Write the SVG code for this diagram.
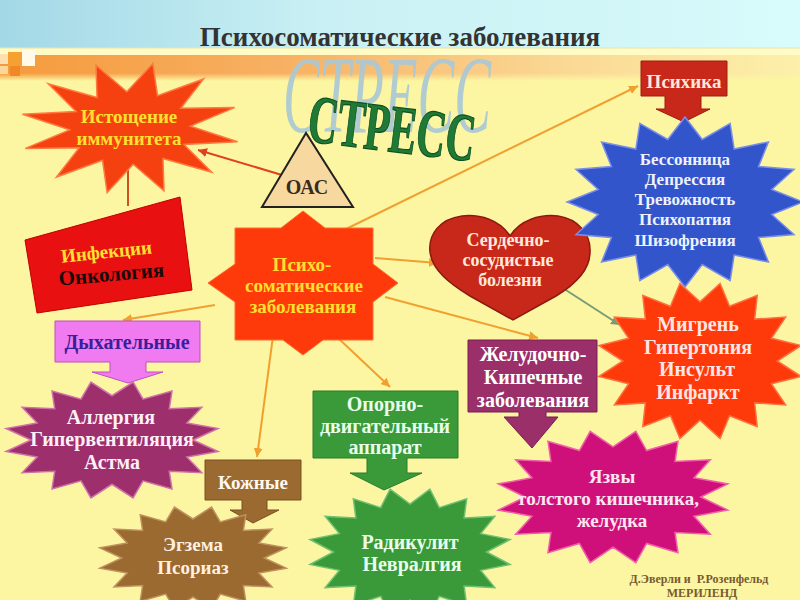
<svg xmlns="http://www.w3.org/2000/svg" width="800" height="600" viewBox="0 0 800 600">
<style>
.t{font-family:"Liberation Serif","Times New Roman",serif;font-weight:bold;text-anchor:middle;}
.f19{font-size:19px;}
.f20{font-size:20px;}
.f17{font-size:17px;}
.ln{fill:none;stroke:#f0a030;stroke-width:2;}
.st{stroke-width:1.5;vector-effect:non-scaling-stroke;}
</style>
<defs>
<linearGradient id="gTitle" x1="0" y1="0" x2="1" y2="0">
<stop offset="0" stop-color="#a3d8e6"/><stop offset="0.4" stop-color="#c9f0f4"/><stop offset="1" stop-color="#d8fbfb"/>
</linearGradient>
<linearGradient id="gBand" x1="0" y1="0" x2="1" y2="0">
<stop offset="0" stop-color="#f59a3c"/><stop offset="0.35" stop-color="#f7b062"/><stop offset="0.7" stop-color="#fad894"/><stop offset="1" stop-color="#fcf0aa"/>
</linearGradient>
<linearGradient id="gBandV" x1="0" y1="0" x2="0" y2="1">
<stop offset="0" stop-color="#fcf6a2" stop-opacity="0"/><stop offset="0.7" stop-color="#fcf6a2" stop-opacity="0"/><stop offset="1" stop-color="#fcf6a2" stop-opacity="1"/>
</linearGradient>
<polygon id="star16" class="st" points="1,0 .7356,.1463 .9239,.3827 .6236,.4167 .7071,.7071 .4167,.6236 .3827,.9239 .1463,.7356 0,1 -.1463,.7356 -.3827,.9239 -.4167,.6236 -.7071,.7071 -.6236,.4167 -.9239,.3827 -.7356,.1463 -1,0 -.7356,-.1463 -.9239,-.3827 -.6236,-.4167 -.7071,-.7071 -.4167,-.6236 -.3827,-.9239 -.1463,-.7356 0,-1 .1463,-.7356 .3827,-.9239 .4167,-.6236 .7071,-.7071 .6236,-.4167 .9239,-.3827 .7356,-.1463"/>
<polygon id="star12" class="st" points="1,0 .5313,.1423 .866,.5 .3889,.3889 .5,.866 .1423,.5313 0,1 -.1423,.5313 -.5,.866 -.3889,.3889 -.866,.5 -.5313,.1423 -1,0 -.5313,-.1423 -.866,-.5 -.3889,-.3889 -.5,-.866 -.1423,-.5313 0,-1 .1423,-.5313 .5,-.866 .3889,-.3889 .866,-.5 .5313,-.1423"/>
<marker id="aO" viewBox="0 0 10 10" refX="10" refY="5" markerWidth="9" markerHeight="9" markerUnits="userSpaceOnUse" orient="auto"><path d="M0,0 L10,5 L0,10 Z" fill="#f0a030"/></marker>
<marker id="aR" viewBox="0 0 10 10" refX="10" refY="5" markerWidth="9" markerHeight="9" markerUnits="userSpaceOnUse" orient="auto"><path d="M0,0 L10,5 L0,10 Z" fill="#e04020"/></marker>
<marker id="aG" viewBox="0 0 10 10" refX="10" refY="5" markerWidth="9" markerHeight="9" markerUnits="userSpaceOnUse" orient="auto"><path d="M0,0 L10,5 L0,10 Z" fill="#7a9a7a"/></marker>
</defs>

<!-- background -->
<rect x="0" y="0" width="800" height="600" fill="#fcf6a2"/>
<rect x="0" y="48" width="800" height="8" fill="#fefbc4"/>
<rect x="0" y="55" width="800" height="26" fill="url(#gBand)"/>
<rect x="0" y="55" width="800" height="26" fill="url(#gBandV)"/>

<!-- stress title (ghost) -->
<text x="0" y="0" font-family="Liberation Serif, serif" font-style="italic" font-size="110" fill="#a8c8d6" fill-opacity="0.9" transform="translate(283,132) scale(0.5,1)">СТРЕСС</text>

<rect x="0" y="0" width="800" height="48" fill="url(#gTitle)"/>
<line x1="0" y1="48" x2="800" y2="48" stroke="#e8e4b0" stroke-width="1"/>
<rect x="0" y="54" width="8" height="10" fill="#fde0b0"/>
<rect x="8" y="52" width="14" height="14" fill="#f5a030"/>
<rect x="22" y="50" width="13" height="16" fill="#fffbe8"/>
<rect x="10" y="66" width="10" height="10" fill="#f08828"/>
<rect x="0" y="66" width="8" height="8" fill="#fbd79a"/>

<text class="t" x="400" y="46" font-size="27" fill="#333333">Психосоматические заболевания</text>

<text x="0" y="0" font-family="Liberation Serif, serif" font-weight="bold" font-size="68" fill="#1f7a35" stroke="#0f5020" stroke-width="1.2" transform="translate(306,141) rotate(7) scale(0.6,1)">СТРЕСС</text>

<!-- connectors -->
<g id="connectors">
<line class="ln" x1="342" y1="231" x2="638" y2="86" marker-end="url(#aO)"/>
<line class="ln" x1="375" y1="258" x2="438" y2="263" marker-end="url(#aO)"/>
<line class="ln" x1="385" y1="297" x2="538" y2="338" marker-end="url(#aO)"/>
<line class="ln" x1="337" y1="337" x2="390" y2="387" marker-end="url(#aO)"/>
<line class="ln" x1="273" y1="336" x2="257" y2="457" marker-end="url(#aO)"/>
<line class="ln" x1="215" y1="305" x2="123" y2="320" marker-end="url(#aO)"/>
<line x1="282" y1="175" x2="198" y2="150" stroke="#e04020" stroke-width="2" marker-end="url(#aR)"/>
<line x1="128" y1="160" x2="128" y2="206" stroke="#d05020" stroke-width="2"/>
<line x1="555" y1="283" x2="620" y2="325" stroke="#7a9a7a" stroke-width="2" marker-end="url(#aG)"/>
</g>

<!-- nodes -->
<g id="oas">
<polygon points="306,133 262,207 353,207" fill="#f7d9a0" stroke="#222" stroke-width="2"/>
<text class="t" x="307" y="194" font-size="20" fill="#3a2a20">ОАС</text>
</g>

<g id="istoshchenie">
<use href="#star12" transform="translate(130,128) scale(110,66) rotate(12)" fill="#f5400f" stroke="#ff7a40"/>
<text class="t f19" x="129" y="123" fill="#ffe030">Истощение</text>
<text class="t f19" x="129" y="145" fill="#ffe030">иммунитета</text>
</g>

<g id="infekcii">
<polygon points="25,240 180,197 192,290 37,313" fill="#e81010" stroke="#c00000" stroke-width="1"/>
<text class="t f19" x="107" y="258" fill="#ffe030" transform="rotate(-6 107 258)">Инфекции</text>
<text class="t" x="112" y="281" font-size="21" fill="#1a0a0a" transform="rotate(-5 112 281)">Онкология</text>
</g>

<g id="psihosomatic">
<polygon points="303,211 325,228 373,228 373,264 398,283 373,302 373,340 323,340 303,355 283,340 235,340 235,302 208,283 235,264 235,228 281,228" fill="#ff3a0a" stroke="#ff6a30" stroke-width="1"/>
<text class="t f19" x="302" y="271" fill="#ffe030">Психо-</text>
<text class="t f19" x="304" y="292" fill="#ffe030">соматические</text>
<text class="t f19" x="303" y="313" fill="#ffe030">заболевания</text>
</g>

<g id="heart">
<path d="M510,236 C500,220 480,214 462,216 C440,219 428,234 430,252 C432,270 450,284 470,296 L513,320 L556,296 C576,284 590,270 590,252 C591,234 578,219 558,216 C540,214 520,220 510,236 Z" fill="#c8281a" stroke="#8a1a10" stroke-width="1.5"/>
<text class="t" x="508" y="246" font-size="18" fill="#ffe8dc">Сердечно-</text>
<text class="t" x="508" y="266" font-size="18" fill="#ffe8dc">сосудистые</text>
<text class="t" x="510" y="286" font-size="18" fill="#ffe8dc">болезни</text>
</g>

<g id="psihika">
<path d="M641,61 H727 V96 H701 V109 H710 L684,122 L656,109 H665 V96 H641 Z" fill="#c8281a" stroke="#a01a10" stroke-width="1"/>
<text class="t f19" x="684" y="88" fill="#ffe8d8">Психика</text>
</g>

<g id="psihika-list">
<use href="#star16" transform="translate(685,202) scale(118,85)" fill="#3355cc" stroke="#7a8ee8"/>
<text class="t f17" x="685" y="165" fill="#eef2ff">Бессонница</text>
<text class="t f17" x="685" y="185" fill="#eef2ff">Депрессия</text>
<text class="t f17" x="685" y="205" fill="#eef2ff">Тревожность</text>
<text class="t f17" x="685" y="225" fill="#eef2ff">Психопатия</text>
<text class="t f17" x="685" y="246" fill="#eef2ff">Шизофрения</text>
</g>

<g id="migren">
<use href="#star16" transform="translate(700,361) scale(103,79) rotate(11.25)" fill="#ff3a0a" stroke="#ff7040"/>
<text class="t f20" x="698" y="331" fill="#ffe6e6">Мигрень</text>
<text class="t f20" x="698" y="354" fill="#ffe6e6">Гипертония</text>
<text class="t f20" x="697" y="376" fill="#ffe6e6">Инсульт</text>
<text class="t f20" x="698" y="399" fill="#ffe6e6">Инфаркт</text>
</g>

<g id="zhkt">
<path d="M468,340 H597 V412 H546 V417 H558 L532,448 L504,417 H519 V412 H468 Z" fill="#9a2f6a" stroke="#7a1f52" stroke-width="1"/>
<text class="t f20" x="533" y="361" fill="#ffffff">Желудочно-</text>
<text class="t f20" x="533" y="384" fill="#ffffff">Кишечные</text>
<text class="t f20" x="533" y="407" fill="#ffffff">заболевания</text>
</g>

<g id="yazvy">
<use href="#star16" transform="translate(613,497) scale(117,67) rotate(11.25)" fill="#d0107a" stroke="#f060a8"/>
<text class="t f19" x="612" y="483" fill="#ffe6f2">Язвы</text>
<text class="t f19" x="608" y="505" fill="#ffe6f2">толстого кишечника,</text>
<text class="t f19" x="612" y="527" fill="#ffe6f2">желудка</text>
</g>

<g id="oporno">
<path d="M313,391 H458 V458 H407 V473 H422 L384,490 L350,473 H367 V458 H313 Z" fill="#3a9a3a" stroke="#2a7a2a" stroke-width="1"/>
<text class="t f20" x="385" y="411" fill="#eaffea">Опорно-</text>
<text class="t f20" x="385" y="433" fill="#eaffea">двигательный</text>
<text class="t f20" x="385" y="454" fill="#eaffea">аппарат</text>
</g>

<g id="radikulit">
<use href="#star16" transform="translate(410,552) scale(102,64) rotate(11.25)" fill="#3a9a3a" stroke="#70c070"/>
<text class="t f20" x="410" y="549" fill="#eaffea">Радикулит</text>
<text class="t f20" x="412" y="571" fill="#eaffea">Невралгия</text>
</g>

<g id="kozhnye">
<path d="M205,460 H301 V500 H267 V510 H279 L253,523 L230,510 H242 V500 H205 Z" fill="#9a6a30" stroke="#7a5020" stroke-width="1"/>
<text class="t f19" x="253" y="489" fill="#fff8ee">Кожные</text>
</g>

<g id="egzema">
<use href="#star16" transform="translate(193,558) scale(95,52) rotate(11.25)" fill="#9a6a30" stroke="#c09060"/>
<text class="t f19" x="193" y="551" fill="#fff0e0">Эгзема</text>
<text class="t f19" x="193" y="574" fill="#fff0e0">Псориаз</text>
</g>

<g id="dyhatelnye">
<path d="M55,321 H200 V362 H146 V372 H163 L128,383 L92,372 H110 V362 H55 Z" fill="#f07af0" stroke="#c050c0" stroke-width="1"/>
<text class="t f20" x="127" y="349" fill="#3a1e9a">Дыхательные</text>
</g>

<g id="allergiya">
<use href="#star16" transform="translate(112,440) scale(108,59) rotate(11.25)" fill="#9c2f6c" stroke="#d070a8"/>
<text class="t f20" x="111" y="424" fill="#fff0f8">Аллергия</text>
<text class="t f20" x="112" y="446" fill="#fff0f8">Гипервентиляция</text>
<text class="t f20" x="112" y="469" fill="#fff0f8">Астма</text>
</g>

<g id="credit">
<text class="t" x="699" y="583" font-size="12" fill="#7a5a30" xml:space="preserve">Д.Эверли и  Р.Розенфельд</text>
<text class="t" x="702" y="597" font-size="12" fill="#7a5a30">МЕРИЛЕНД</text>
</g>
</svg>
